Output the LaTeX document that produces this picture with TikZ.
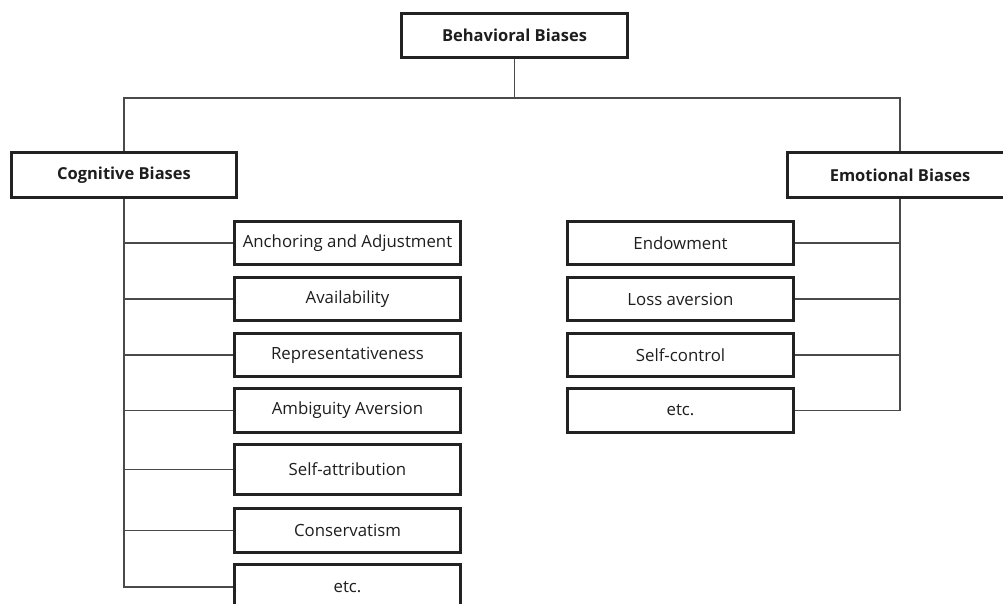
\documentclass[tikz,border=0pt]{standalone}
\usepackage{fontspec}
\setmainfont{Open Sans}
\definecolor{boxline}{HTML}{222222}
\definecolor{connline}{HTML}{4A4A4A}
\definecolor{txt}{HTML}{1E1E1E}
\begin{document}
\begin{tikzpicture}[x=1pt,y=-1pt,
  box/.style={draw=boxline, line width=2pt, fill=white, text=txt,
    minimum width=225pt, minimum height=42pt, inner sep=0pt,
    font=\fontsize{16.8}{20}\selectfont},
  head/.style={box, font=\fontsize{16.5}{19}\bfseries\selectfont},
  conn/.style={draw=connline, line width=1.3pt}]
\useasboundingbox (0,0) rectangle (1003,603);

% root and the two main groups
\node[head, minimum height=43pt] (root) at (514.5,35.5) {Behavioral Biases};
\node[head, minimum width=224pt, minimum height=44pt] (cog) at (124,175) {Cognitive Biases};
\node[head, minimum width=224pt, minimum height=44pt] (emo) at (900,175) {Emotional Biases};

% cognitive biases
\node[box] (c1) at (347.5,243) {Anchoring and Adjustment};
\node[box] (c2) at (347.5,299) {Availability};
\node[box] (c3) at (347.5,355) {Representativeness};
\node[box, minimum height=43pt] (c4) at (347.5,410.5) {Ambiguity Aversion};
\node[box, minimum height=49pt] (c5) at (347.5,469.5) {Self-attribution};
\node[box, minimum height=43pt] (c6) at (347.5,530.5) {Conservatism};
\node[box, minimum height=44pt] (c7) at (347.5,587) {etc.};

% emotional biases
\node[box] (e1) at (680.5,243) {Endowment};
\node[box] (e2) at (680.5,299) {Loss aversion};
\node[box] (e3) at (680.5,355) {Self-control};
\node[box, minimum height=43pt] (e4) at (680.5,410.5) {etc.};

% tree connectors
\coordinate (bus) at (514.5,98);
\draw[conn] (root.south) -- (bus);
\draw[conn] (cog.north) |- (bus) -| (emo.north);

\draw[conn] (cog.south) |- (c7.west);
\foreach \n in {c1,c2,c3,c4,c5,c6}
  \draw[conn] (\n.west) -- (\n.west -| cog.south);

\draw[conn] (emo.south) |- (e4.east);
\foreach \n in {e1,e2,e3}
  \draw[conn] (\n.east) -- (\n.east -| emo.south);

% redraw box outlines above the connector ends
\foreach \n in {root,cog,emo,c1,c2,c3,c4,c5,c6,c7,e1,e2,e3,e4}
  \draw[boxline, line width=2pt] (\n.north west) rectangle (\n.south east);
\end{tikzpicture}
\end{document}
